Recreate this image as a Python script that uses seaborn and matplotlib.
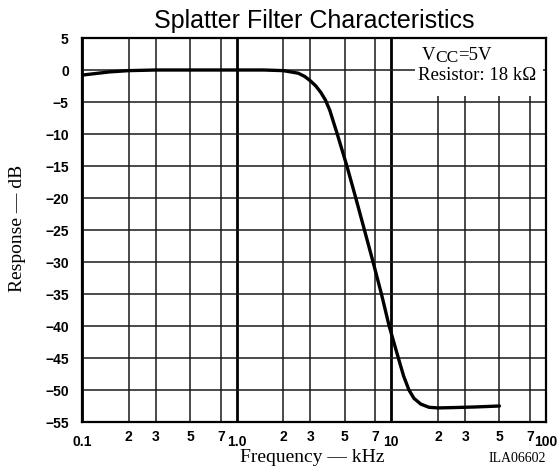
import numpy as np
import pandas as pd
import matplotlib
matplotlib.use("Agg")
import matplotlib.pyplot as plt
import seaborn as sns
from matplotlib.patches import Rectangle
from matplotlib.ticker import FixedLocator, FixedFormatter

# ---- data ----
freq_khz = [0.1, 0.15, 0.2, 0.3, 0.5, 1.0, 1.5, 2.0, 2.5, 2.75, 3.0, 3.25, 3.5,
            3.75, 4.0, 4.47, 5.16, 5.89, 6.70, 7.62, 8.63, 9.68, 11.1, 12.0,
            13.0, 14.0, 15.5, 17.5, 20, 25, 35, 50]
response_db = [-0.8, -0.3, -0.1, 0, 0, 0, 0, -0.1, -0.5, -1.0, -1.7, -2.5, -3.5,
               -4.7, -6.3, -10, -15, -20, -25, -30, -35, -40, -45, -47.8,
               -50.0, -51.3, -52.2, -52.7, -52.8, -52.75, -52.65, -52.5]

title = "Splatter Filter Characteristics"
x_label = "Frequency — kHz"
y_label = "Response — dB"
code_label = "ILA06602"
major_ticks = [0.1, 1.0, 10, 100]
major_labels = ["0.1", "1.0", "10", "100"]
minor_ticks = [0.2, 0.3, 0.5, 0.79, 2, 3, 5, 7.9, 20, 30, 50, 79]
minor_labels = ["2", "3", "5", "7"] * 3
y_ticks = list(range(-55, 6, 5))
y_labels = [str(v).replace("-", "\u2212") for v in y_ticks]

sns.set_theme(style="white", rc={"text.color": "black", "axes.labelcolor": "black",
                                 "xtick.color": "black", "ytick.color": "black",
                                 "axes.edgecolor": "black"})
plt.rcParams["font.family"] = ["Liberation Sans", "DejaVu Sans"]

fig = plt.figure(figsize=(5.6, 4.67), dpi=100)
ax = fig.add_axes([82 / 560, 1 - 422 / 467, 464 / 560, 384 / 467])

df = pd.DataFrame({"freq": freq_khz, "resp": response_db})
sns.lineplot(data=df, x="freq", y="resp", ax=ax, color="black", lw=2.4,
             zorder=3, sort=False)

ax.set_xscale("log")
ax.set_xlim(0.1, 100)
ax.set_ylim(-55, 5)

ax.xaxis.set_major_locator(FixedLocator(major_ticks))
ax.xaxis.set_major_formatter(FixedFormatter(major_labels))
ax.xaxis.set_minor_locator(FixedLocator(minor_ticks))
ax.xaxis.set_minor_formatter(FixedFormatter(minor_labels))
ax.set_yticks(y_ticks)
ax.set_yticklabels(y_labels)

ax.tick_params(axis="x", which="major", length=0, pad=9.0, labelsize=10)
ax.tick_params(axis="x", which="minor", length=0, pad=5.5, labelsize=10)
ax.tick_params(axis="y", which="major", length=0, pad=9.5, labelsize=10)
for lbl in ax.get_xticklabels(which="both") + ax.get_yticklabels():
    lbl.set_fontweight("bold")

ax.set_axisbelow(True)
ax.grid(which="major", axis="x", color="black", lw=2.0)
ax.grid(which="minor", axis="x", color="#4a4a4a", lw=1.4)
ax.grid(which="major", axis="y", color="#1a1a1a", lw=1.1)

for s in ax.spines.values():
    s.set_visible(True)
    s.set_color("black")
    s.set_linewidth(1.6)

ax.set_title(title, fontsize=18, pad=7)

ax.set_xlabel(x_label, family="Liberation Serif", fontsize=14)
ax.xaxis.set_label_coords((312 - 82) / 464, (422 - 462.5) / 384)
ax.xaxis.label.set_va("baseline")

ax.set_ylabel(y_label, family="Liberation Serif", fontsize=14)
ax.yaxis.set_label_coords((17.5 - 82) / 464, (422 - 228) / 384)
ax.yaxis.label.set_va("center")

# white box behind the annotation
ax.add_patch(Rectangle(((415 - 82) / 464, (422 - 96) / 384), (543 - 415) / 464,
                       (96 - 38) / 384, transform=ax.transAxes,
                       facecolor="white", edgecolor="none", zorder=1))

serif = "Liberation Serif"
tV = ax.text((421.7 - 82) / 464, (422 - 59.7) / 384, "V", transform=ax.transAxes,
             family=serif, fontsize=13.5, ha="left", va="baseline", zorder=4)
tCC = ax.annotate("CC", xy=(1, 0), xycoords=tV, xytext=(0, -2),
                  textcoords="offset points", family=serif, fontsize=12.5,
                  ha="left", va="bottom", zorder=4)
ax.annotate("=5V", xy=(1, 0), xycoords=tCC, xytext=(0, 2),
            textcoords="offset points", family=serif, fontsize=13.5,
            ha="left", va="bottom", zorder=4)
ax.text((418 - 82) / 464, (422 - 79.5) / 384, "Resistor: 18 kΩ",
        transform=ax.transAxes, family=serif, fontsize=13.5,
        ha="left", va="baseline", zorder=4)

fig.text(546 / 560, 1 - 462.5 / 467, code_label, family=serif, fontsize=10,
         ha="right", va="baseline")

fig.savefig("out.png", dpi=100)
